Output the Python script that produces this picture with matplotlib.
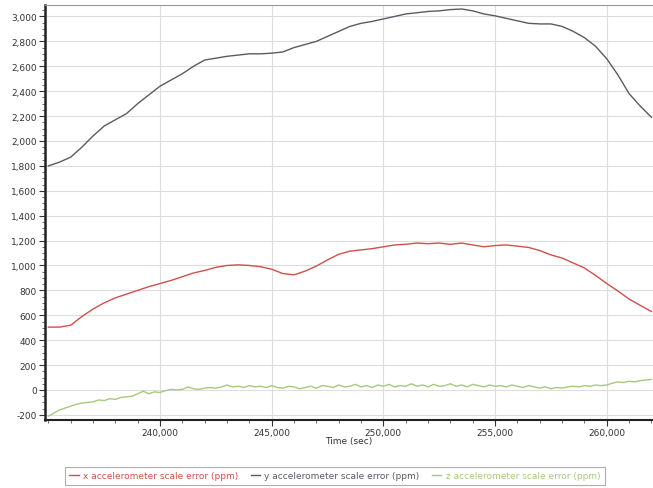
import matplotlib
matplotlib.use("Agg")
import matplotlib.pyplot as plt
from matplotlib.ticker import FuncFormatter, MultipleLocator
import numpy as np

# ---- data ----
t_start = 235000
t_step = 500
x_err = [505, 505, 520, 590, 650, 700, 740, 770, 800, 830, 855, 880, 910, 940, 960, 985,
         1000, 1005, 1000, 990, 970, 935, 925, 955, 995, 1045, 1090, 1115, 1125, 1135,
         1150, 1165, 1170, 1180, 1175, 1180, 1170, 1180, 1165, 1150, 1160, 1165, 1155,
         1145, 1120, 1085, 1060, 1020, 980, 920, 855, 795, 730, 680, 630]
y_err = [1800, 1830, 1870, 1950, 2040, 2120, 2170, 2220, 2300, 2370, 2440, 2490, 2540,
         2600, 2650, 2665, 2680, 2690, 2700, 2700, 2705, 2715, 2750, 2775, 2800, 2840,
         2880, 2920, 2945, 2960, 2980, 3000, 3020, 3030, 3040, 3045, 3055, 3060, 3045,
         3020, 3005, 2985, 2965, 2945, 2940, 2940, 2920, 2880, 2830, 2760, 2660, 2530,
         2380, 2280, 2190]
z_step = 250
z_err = [-210, -185, -160, -145, -130, -115, -105, -100, -95, -80, -85, -70, -75, -60,
         -55, -50, -30, -10, -30, -15, -20, -5, 5, 0, 5, 25, 10, 5, 15, 20, 15, 25, 40,
         25, 30, 20, 35, 25, 30, 20, 35, 20, 15, 30, 25, 10, 20, 30, 15, 35, 30, 20, 40,
         25, 30, 45, 25, 35, 20, 40, 30, 45, 25, 35, 30, 50, 30, 40, 25, 45, 30, 35, 50,
         30, 40, 25, 45, 35, 25, 40, 30, 35, 25, 40, 30, 20, 35, 25, 15, 25, 10, 20, 15,
         25, 30, 25, 35, 30, 40, 35, 40, 55, 65, 60, 70, 65, 75, 80, 85]
labels = ["x accelerometer scale error (ppm)",
          "y accelerometer scale error (ppm)",
          "z accelerometer scale error (ppm)"]
colors = ["#d0504a", "#5a5a66", "#a9c77e"]
x_ticks = [240000, 245000, 250000, 255000, 260000]
y_ticks = list(range(-200, 3001, 200))

t_xy = t_start + t_step * np.arange(len(x_err))
t_z = t_start + z_step * np.arange(len(z_err))

fig = plt.figure(figsize=(6.53, 4.89), dpi=100)
ax = fig.add_axes([45 / 653, 68 / 489, 1 - 45 / 653, 415 / 489])

ax.plot(t_xy, x_err, color=colors[0], lw=1.0, label=labels[0])
ax.plot(t_xy, y_err, color=colors[1], lw=1.0, label=labels[1])
ax.plot(t_z, z_err, color=colors[2], lw=1.0, label=labels[2])

ax.set_xlim(234850, 262070)
ax.set_ylim(-241, 3092)
ax.set_xticks(x_ticks)
ax.xaxis.set_minor_locator(MultipleLocator(1000))
ax.set_yticks(y_ticks)
ax.yaxis.set_minor_locator(MultipleLocator(50))
fmt = FuncFormatter(lambda v, p: f"{int(v):,}")
ax.xaxis.set_major_formatter(fmt)
ax.yaxis.set_major_formatter(fmt)
ax.tick_params(axis="both", which="major", labelsize=6.5, colors="#333333",
               length=4, width=0.8, pad=2)
ax.tick_params(axis="both", which="minor", length=2, width=0.6, colors="#555555")
ax.grid(True, which="major", color="#dddddd", lw=0.8)
ax.set_axisbelow(True)
ax.spines["left"].set_linewidth(1.8)
ax.spines["left"].set_color("#222222")
ax.spines["bottom"].set_linewidth(1.5)
ax.spines["bottom"].set_color("#222222")
ax.spines["top"].set_color("#999999")
ax.spines["right"].set_visible(False)
ax.set_xlabel("Time (sec)", fontsize=6.5, color="#333333", labelpad=-1)

leg = fig.legend(loc="center", bbox_to_anchor=(335 / 653, 1 - 477 / 489), ncol=3,
                 fontsize=6.5, frameon=True, fancybox=False, handlelength=1.0,
                 handletextpad=0.5, columnspacing=1.4, labelcolor="linecolor",
                 borderpad=0.45, edgecolor="#999999")
leg.get_frame().set_linewidth(0.8)

fig.savefig("out.png", dpi=100)
